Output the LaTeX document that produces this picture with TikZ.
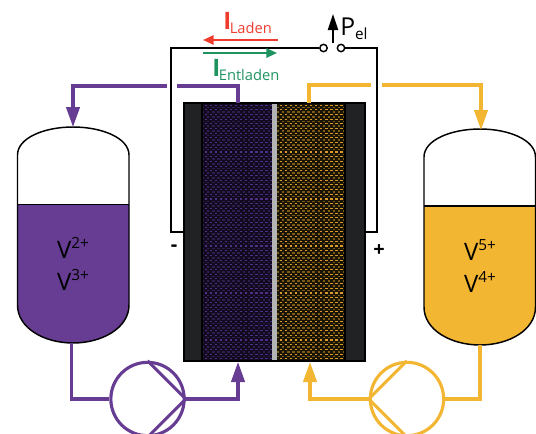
\documentclass[tikz,border=0pt]{standalone}
\usepackage{fontspec}
\setmainfont{Open Sans}
\usetikzlibrary{arrows.meta}
\definecolor{vpurple}{HTML}{673D94}
\definecolor{vorange}{HTML}{F3B632}
\definecolor{vred}{HTML}{EE3D2F}
\definecolor{vgreen}{HTML}{1E9360}
\definecolor{vdark}{HTML}{202224}
\definecolor{vgray}{HTML}{B4B4B4}
\definecolor{pbg}{HTML}{120A1E}
\definecolor{pmid}{HTML}{2E1E4C}
\definecolor{pbright}{HTML}{4E2F85}
\definecolor{obg}{HTML}{1A1405}
\definecolor{omid}{HTML}{7A5A14}
\definecolor{obright}{HTML}{D9992A}
\tikzset{
  x=0.75pt,y=-0.75pt,
  wire/.style={draw=black,line width=1.5pt,line join=miter},
  pipeP/.style={draw=vpurple,line width=2.35pt,line join=miter},
  pipeO/.style={draw=vorange,line width=2.35pt,line join=miter},
  tipP/.style={pipeP,-{Triangle[length=15pt,width=10pt,fill=vpurple]}},
  tipO/.style={pipeO,-{Triangle[length=15pt,width=10pt,fill=vorange]}},
  tankline/.style={draw=black,line width=1.1pt},
  pump/.style={circle,line width=2.35pt,minimum size=55pt,inner sep=0pt,fill=white},
  contact/.style={circle,draw=black,line width=1.1pt,fill=white,minimum size=5.5pt,inner sep=0pt},
  tanklabel/.style={font=\fontsize{18pt}{20pt}\selectfont,text=black,align=center,inner sep=0pt},
  cur/.style={inner sep=0pt,anchor=base west},
  pole/.style={font=\fontsize{15pt}{15pt}\selectfont\bfseries,inner sep=0pt},
}
\newcommand{\supr}[1]{\raisebox{.42em}{\fontsize{11.5pt}{12pt}\selectfont #1}}
\newcommand{\bigI}{\fontsize{18pt}{18pt}\selectfont\bfseries I}
\newcommand{\curtxt}[1]{\hspace{-1pt}\raisebox{-3pt}{\normalfont\fontsize{11pt}{13pt}\selectfont #1}}
\begin{document}
\begin{tikzpicture}
\useasboundingbox (0,0) rectangle (536,433);
% tanks
\fill[vpurple] (17.5,204.5) -- (129,204.5) -- (129,305) .. controls (129,328) and (102,343) .. (73,343) .. controls (44,343) and (17.5,328) .. (17.5,305) -- cycle;
\draw[tankline] (17.5,204.5) -- (129,204.5);
\draw[tankline] (73,127) .. controls (44,127) and (17.5,138) .. (17.5,155) -- (17.5,305) .. controls (17.5,328) and (44,343) .. (73,343) .. controls (102,343) and (129,328) .. (129,305) -- (129,155) .. controls (129,138) and (102,127) .. (73,127) -- cycle;
\fill[vorange] (424,206) -- (535.5,206) -- (535.5,307) .. controls (535.5,330) and (509,345) .. (480,345) .. controls (451,345) and (424,330) .. (424,307) -- cycle;
\draw[tankline] (424,206) -- (535.5,206);
\draw[tankline] (480,129) .. controls (451,129) and (424,140) .. (424,157) -- (424,307) .. controls (424,330) and (451,345) .. (480,345) .. controls (509,345) and (535.5,330) .. (535.5,307) -- (535.5,157) .. controls (535.5,140) and (509,129) .. (480,129) -- cycle;
\node[tanklabel] (v2) at (73,248) {V\supr{2+}};
\node[tanklabel] (v3) at (73,280) {V\supr{3+}};
\node[tanklabel] (v5) at (480,250) {V\supr{5+}};
\node[tanklabel] (v4) at (480,282) {V\supr{4+}};
% cell
\fill[vdark] (184,103) rectangle (202,361);
\fill[vdark] (345,103) rectangle (365,361);
\fill[pbg] (202,103) rectangle (272,361);
\fill[obg] (277,103) rectangle (345,361);
\begin{scope}
\clip (202,105) rectangle (272,360);
\foreach \r [evaluate=\r as \yy using 105+\r*4.7] in {0,...,54}{
  \draw[pmid,line width=1.2pt,dash pattern=on 1.8pt off 2pt] (202,\yy+2.35) -- (272,\yy+2.35);
  \draw[pbright,line width=0.8pt,dash pattern=on 1.8pt off 2pt,dash phase=1.9pt] (202,\yy) -- (272,\yy);
}
\end{scope}
\begin{scope}
\clip (277,105) rectangle (345,360);
\foreach \r [evaluate=\r as \yy using 105+\r*4.7] in {0,...,54}{
  \draw[omid,line width=1.2pt,dash pattern=on 1.8pt off 2pt] (277,\yy+2.35) -- (345,\yy+2.35);
  \draw[obright,line width=0.8pt,dash pattern=on 1.8pt off 2pt,dash phase=1.9pt] (277,\yy) -- (345,\yy);
}
\end{scope}
\fill[vgray] (272,103) rectangle (277,361);
\draw[black,line width=1.2pt] (202,103) -- (202,361) (345,103) -- (345,361);
\draw[black,line width=1.5pt] (184,103) rectangle (365,361);
\coordinate (cellL) at (184,232);
\coordinate (cellR) at (365,232);
% wires
\node[contact] (sw1) at (323.5,48) {};
\node[contact] (sw2) at (341,48) {};
\draw[wire] (sw1.west) -- (171,48) -- (171,232) -- (cellL);
\draw[wire] (sw2.east) -- (377,48) -- (377,232) -- (cellR);
\coordinate (pelS) at (333,43);
\coordinate (pelE) at (333,14);
\draw[black,line width=1.6pt,-{Triangle[length=12pt,width=7.5pt]}] (pelS) -- (pelE);
\node[inner sep=0pt,anchor=base west,font=\fontsize{18.5pt}{19pt}\selectfont] (pel) at (340,35) {P\raisebox{-.18em}{\fontsize{11.5pt}{12pt}\selectfont el}};
% currents
\coordinate (redS) at (278,40);
\coordinate (redE) at (203,40);
\coordinate (grnS) at (203,53);
\coordinate (grnE) at (277,53);
\draw[vred,line width=1.4pt,-{Triangle[length=8pt,width=7pt]}] (redS) -- (redE);
\draw[vgreen,line width=1.4pt,-{Triangle[length=8pt,width=7pt]}] (grnS) -- (grnE);
\node[cur,text=vred] (il) at (223,29) {\bigI\curtxt{Laden}};
\node[cur,text=vgreen] (ie) at (212,76) {\bigI\curtxt{Entladen}};
\node[pole] (minus) at (174,248.5) {-};
\node[pole] (plus) at (379,251) {+};
% purple pipes
\coordinate (pTank) at (73,127);
\coordinate (pBot) at (71.5,343);
\coordinate (pCellT) at (238,103);
\coordinate (pCellB) at (238,362);
\coordinate (pGapL) at (167,86);
\coordinate (pGapR) at (177,86);
\draw[pipeP] (pCellT) -- (238,86) -- (pGapR);
\draw[tipP] (pGapL) -- (73,86) -- (pTank);
\node[pump,draw=vpurple] (pp) at (147.5,399) {};
\draw[pipeP] (pBot) -- (71.5,399) -- (pp.west);
\draw[tipP] (pp.east) -- (238,399) -- (pCellB);
\draw[pipeP] (pp.north) -- (pp.east) -- (pp.south);
% orange pipes
\coordinate (oTank) at (481,130);
\coordinate (oBot) at (480,345);
\coordinate (oCellT) at (309,103);
\coordinate (oCellB) at (310,362);
\coordinate (oGapL) at (371,85);
\coordinate (oGapR) at (382,85);
\draw[pipeO] (oCellT) -- (309,85) -- (oGapL);
\draw[tipO] (oGapR) -- (481,85) -- (oTank);
\node[pump,draw=vorange] (po) at (407,399) {};
\draw[pipeO] (oBot) -- (480,399) -- (po.east);
\draw[tipO] (po.west) -- (310,399) -- (oCellB);
\draw[pipeO] (po.north) -- (po.west) -- (po.south);
\end{tikzpicture}
\end{document}
